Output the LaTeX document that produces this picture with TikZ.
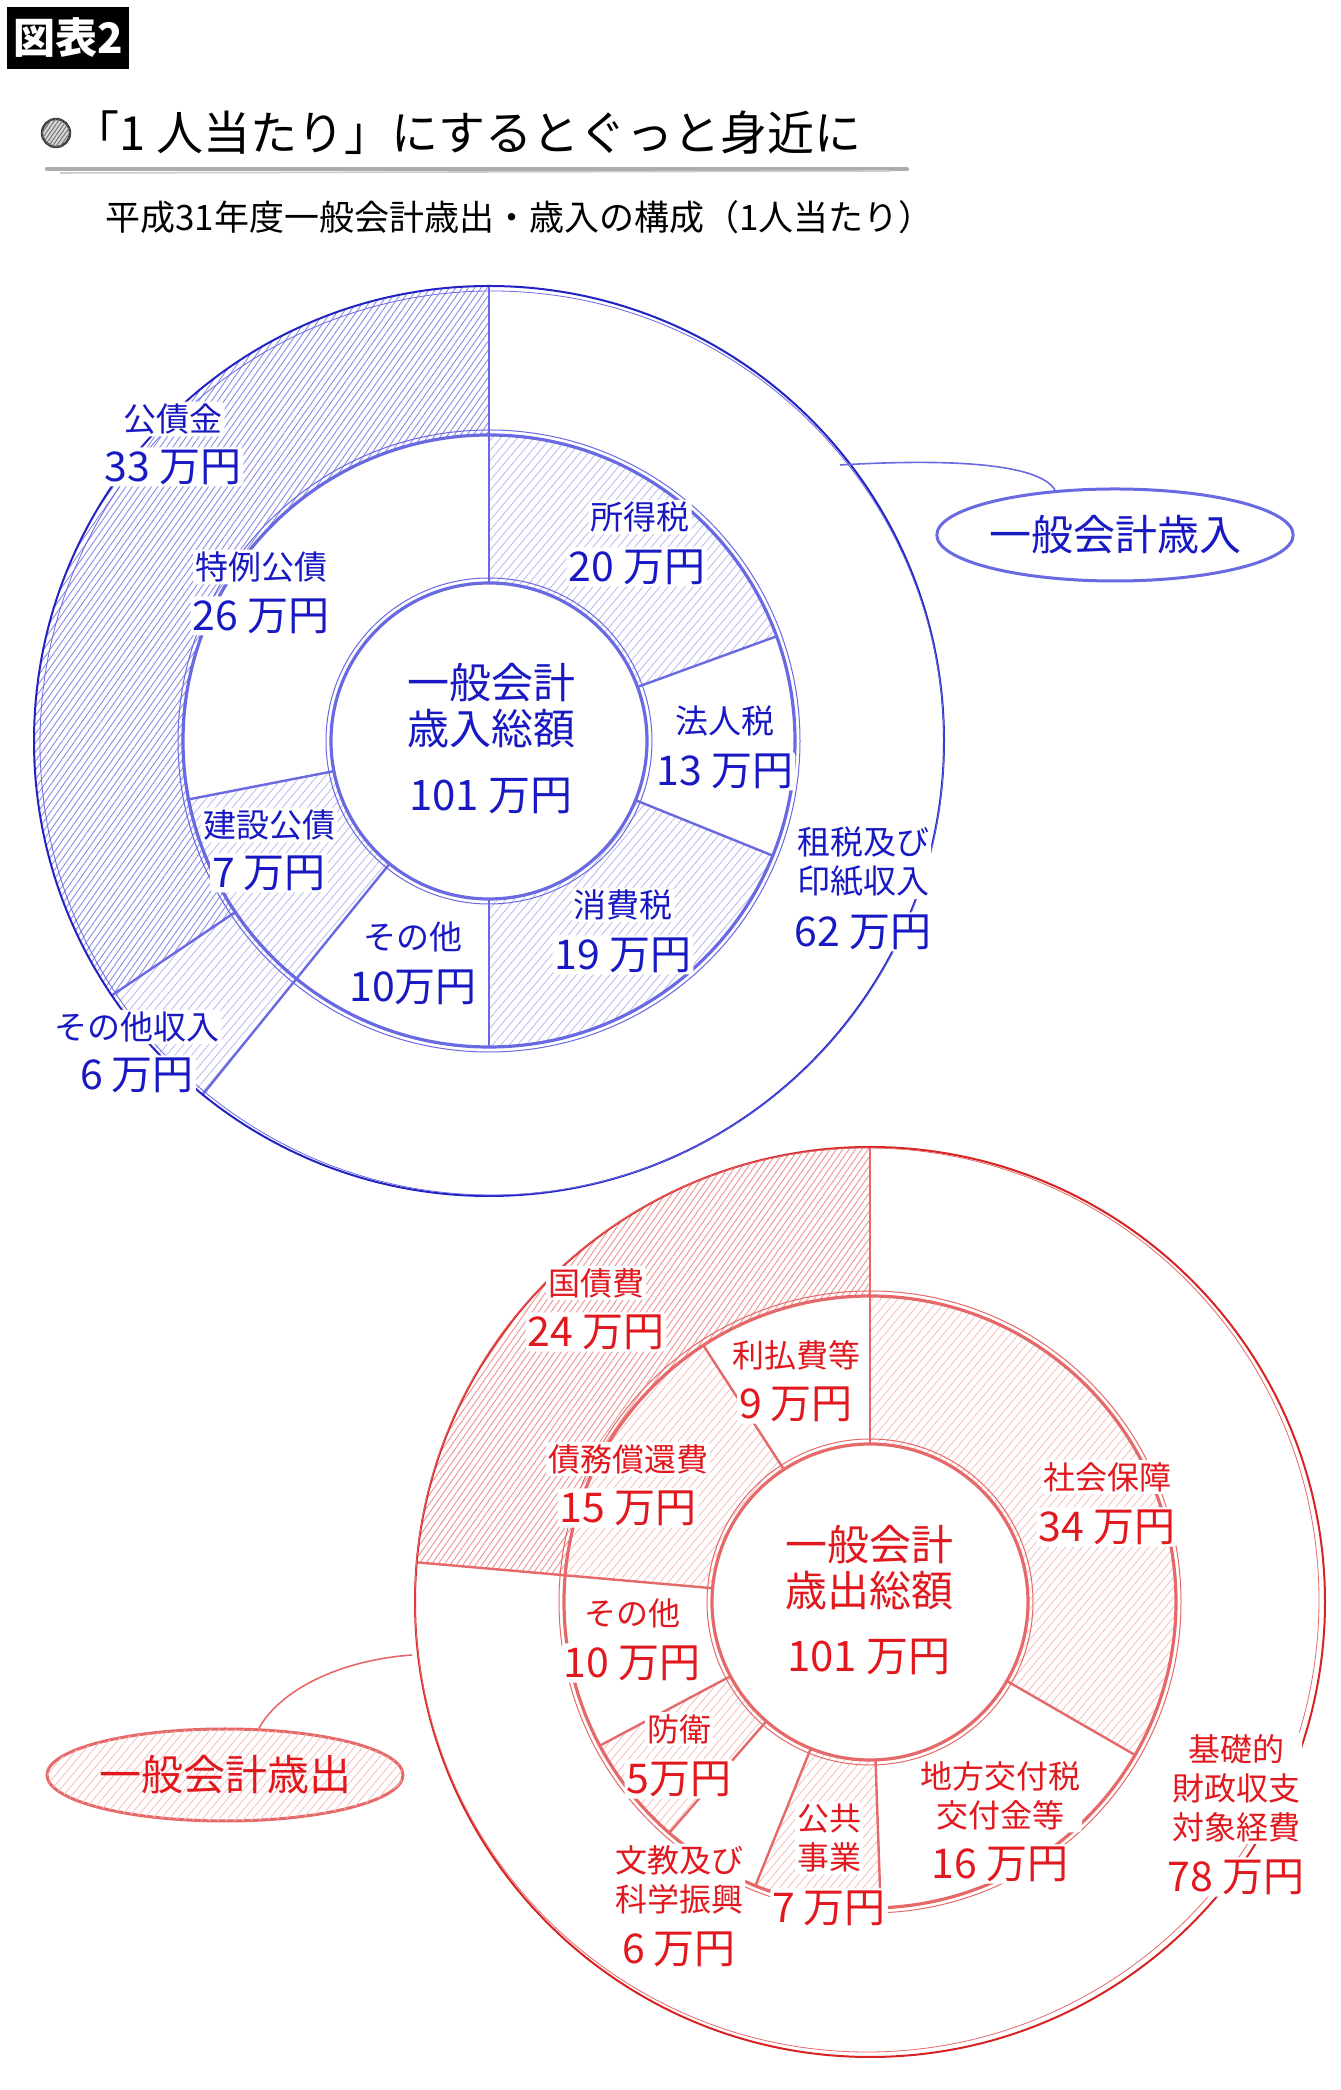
\documentclass[tikz,border=0pt]{standalone}
\usepackage{fontspec}
\setmainfont{Noto Sans CJK JP}
\usepackage{tikz}
\usetikzlibrary{patterns.meta,shapes.geometric}

\definecolor{bTxt}{RGB}{25,25,195}
\definecolor{bLine}{RGB}{105,105,225}
\definecolor{bOut}{RGB}{35,35,195}
\definecolor{bHatch}{RGB}{140,140,230}
\definecolor{bHatchL}{RGB}{185,185,240}
\definecolor{rTxt}{RGB}{225,25,30}
\definecolor{rLine}{RGB}{230,105,105}
\definecolor{rOut}{RGB}{215,35,35}
\definecolor{rHatch}{RGB}{238,145,145}
\definecolor{rHatchL}{RGB}{246,190,190}

\begin{document}
\begin{tikzpicture}[x=0.5pt,y=0.5pt,
	lbl/.style={fill=white, inner sep=1pt, rounded corners=2pt},
	bName/.style={lbl, text=bTxt, align=center, font=\fontsize{16.5}{19.5}\selectfont},
	bNum/.style={lbl, text=bTxt, font=\fontsize{20.5}{23}\selectfont},
	rName/.style={lbl, text=rTxt, align=center, font=\fontsize{16}{19.5}\selectfont},
	rNum/.style={lbl, text=rTxt, font=\fontsize{20.5}{23}\selectfont},
	midTxt/.style={align=center, font=\fontsize{21}{23}\selectfont},
	hatchB/.style={pattern={Lines[angle=55,distance=2.6pt,line width=.45pt]}, pattern color=bHatch},
	hatchBL/.style={pattern={Lines[angle=50,distance=3.2pt,line width=.4pt]}, pattern color=bHatchL},
	hatchR/.style={pattern={Lines[angle=55,distance=2.6pt,line width=.45pt]}, pattern color=rHatch},
	hatchRL/.style={pattern={Lines[angle=50,distance=3.2pt,line width=.4pt]}, pattern color=rHatchL},
	spoke/.style={line width=1.2pt, line cap=round},
	ring/.style={line width=1.6pt},
	tag/.style={ellipse, line width=1.5pt, inner sep=0pt, minimum width=178pt, minimum height=46pt, font=\fontsize{21}{24}\selectfont}]
	\useasboundingbox (0,0) rectangle (1340,2090);
	\fill[white] (0,0) rectangle (1340,2090);
	%Titolo
	\node[fill=black, text=white, font=\bfseries\fontsize{21}{24}\selectfont, minimum width=61pt, minimum height=31pt, inner sep=0pt] (figNo) at (68,2052) {図表2};
	\draw[black!75, line width=1.2pt, fill=gray!30, postaction={pattern={Lines[angle=55,distance=1.6pt,line width=.5pt]}, pattern color=black!55}] (56,1957) circle[radius=14];
	\node[anchor=west, inner sep=0pt, font=\fontsize{23.5}{26}\selectfont] (ttl) at (72,1957) {「1 人当たり」にするとぐっと身近に};
	\draw[gray!65, line width=2.2pt, line cap=round] (47,1921) -- (907,1921);
	\draw[gray!40, line width=.8pt] (60,1917) -- (890,1919);
	\node[anchor=west, inner sep=0pt, font=\fontsize{17.5}{20}\selectfont] (subttl) at (105,1873) {平成31年度一般会計歳出・歳入の構成（1人当たり）};
	%Entrate
	\coordinate (revC) at (489,1349);
	\begin{scope}[shift={(revC)}]
		\fill[hatchB] (90:455) arc[start angle=90,end angle=214,radius=455] -- (214:306) arc[start angle=214,end angle=90,radius=306] -- cycle;
		\fill[hatchBL] (214:455) arc[start angle=214,end angle=231,radius=455] -- (231:306) arc[start angle=231,end angle=214,radius=306] -- cycle;
		\foreach \a/\b in {20/90,-90/-22,191/231}
			\fill[hatchBL] (\a:306) arc[start angle=\a,end angle=\b,radius=306] -- (\b:158) arc[start angle=\b,end angle=\a,radius=158] -- cycle;
		\foreach \a in {20,-22,-90,191}
			\draw[spoke, bLine] (\a:158) -- (\a:306);
		\draw[spoke, bLine] (90:158) -- (90:455);
		\draw[spoke, bLine] (231:158) -- (231:455);
		\draw[spoke, bLine] (214:306) -- (214:455);
		\draw[bOut, line width=1pt] (0,0) circle[radius=455];
		\draw[bLine, line width=.4pt] (3,-2) circle[radius=452];
		\draw[ring, bLine] (0,0) circle[radius=306];
		\draw[bLine, line width=.5pt] (0,0) circle[radius=311];
		\draw[ring, bLine] (0,0) circle[radius=158];
		\draw[bLine, line width=.5pt] (0,0) circle[radius=163];
	\end{scope}
	\node[bName] (kousai) at (173,1671) {公債金};
	\node[bNum] (kousaiV) at (173,1623) {33 万円};
	\node[bName] (tokurei) at (261,1523) {特例公債};
	\node[bNum] (tokureiV) at (261,1474) {26 万円};
	\node[bName] (shotoku) at (640,1573) {所得税};
	\node[bNum] (shotokuV) at (637,1523) {20 万円};
	\node[midTxt, text=bTxt] (revTot) at (491,1384) {一般会計\\歳入総額};
	\node[midTxt, text=bTxt] (revTotV) at (491,1294) {101 万円};
	\node[bName] (houjin) at (725,1369) {法人税};
	\node[bNum] (houjinV) at (725,1319) {13 万円};
	\node[bName] (kensetsu) at (269,1265) {建設公債};
	\node[bNum] (kensetsuV) at (269,1217) {7 万円};
	\node[bName] (shouhi) at (623,1185) {消費税};
	\node[bNum] (shouhiV) at (623,1135) {19 万円};
	\node[bName] (sonotaB) at (413,1153) {その他};
	\node[bNum] (sonotaBV) at (413,1103) {10万円};
	\node[bName] (sozei) at (863,1228) {租税及び\\印紙収入};
	\node[bNum] (sozeiV) at (863,1158) {62 万円};
	\node[bName] (sonotaS) at (137,1063) {その他収入};
	\node[bNum] (sonotaSV) at (137,1015) {6 万円};
	\coordinate (revEnd) at (840,1625);
	\draw[bLine, line width=.8pt] (revEnd) .. controls (960,1632) and (1040,1625) .. (1055,1600);
	\node[tag, draw=bLine, fill=white, text=bTxt] (revTag) at (1115,1555) {一般会計歳入};
	%Uscite
	\coordinate (expC) at (870,488);
	\begin{scope}[shift={(expC)}]
		\fill[hatchR] (90:455) arc[start angle=90,end angle=175,radius=455] -- (175:306) arc[start angle=175,end angle=90,radius=306] -- cycle;
		\foreach \a/\b in {123/175,208/229,248/272,-30/90}
			\fill[hatchRL] (\a:306) arc[start angle=\a,end angle=\b,radius=306] -- (\b:158) arc[start angle=\b,end angle=\a,radius=158] -- cycle;
		\foreach \a in {123,208,229,248,272,-30}
			\draw[spoke, rLine] (\a:158) -- (\a:306);
		\draw[spoke, rLine] (90:158) -- (90:455);
		\draw[spoke, rLine] (175:158) -- (175:455);
		\draw[rOut, line width=1pt] (0,0) circle[radius=455];
		\draw[rLine, line width=.4pt] (-3,2) circle[radius=452];
		\draw[ring, rLine] (0,0) circle[radius=306];
		\draw[rLine, line width=.5pt] (0,0) circle[radius=311];
		\draw[ring, rLine] (0,0) circle[radius=158];
		\draw[rLine, line width=.5pt] (0,0) circle[radius=163];
	\end{scope}
	\node[rName] (kokusai) at (596,807) {国債費};
	\node[rNum] (kokusaiV) at (596,758) {24 万円};
	\node[rName] (riharai) at (796,735) {利払費等};
	\node[rNum] (riharaiV) at (796,686) {9 万円};
	\node[rName] (saimu) at (628,631) {債務償還費};
	\node[rNum] (saimuV) at (628,582) {15 万円};
	\node[rName] (shakai) at (1107,613) {社会保障};
	\node[rNum] (shakaiV) at (1107,563) {34 万円};
	\node[midTxt, text=rTxt] (expTot) at (869,522) {一般会計\\歳出総額};
	\node[midTxt, text=rTxt] (expTotV) at (869,433) {101 万円};
	\node[rName] (sonotaR) at (632,477) {その他};
	\node[rNum] (sonotaRV) at (632,427) {10 万円};
	\node[rName] (bouei) at (679,361) {防衛};
	\node[rNum] (boueiV) at (679,311) {5万円};
	\node[rName] (kiso) at (1236,302) {基礎的\\財政収支\\対象経費};
	\node[rNum] (kisoV) at (1236,213) {78 万円};
	\node[rName] (chihou) at (1000,294) {地方交付税\\交付金等};
	\node[rNum] (chihouV) at (1000,226) {16 万円};
	\node[rName] (koukyou) at (829,252) {公共\\事業};
	\node[rNum] (koukyouV) at (829,182) {7 万円};
	\node[rName] (bunkyou) at (679,210) {文教及び\\科学振興};
	\node[rNum] (bunkyouV) at (679,141) {6 万円};
	\coordinate (expEnd) at (412,435);
	\node[tag, draw=rLine, fill=white, text=rTxt, postaction={pattern={Lines[angle=50,distance=3.2pt,line width=.4pt]}, pattern color=rHatchL}] (expTag) at (225,315) {};
	\node[text=rTxt, font=\fontsize{21}{24}\selectfont] (expTagTxt) at (expTag) {一般会計歳出};
	\draw[rLine, line width=.8pt] (expTag.54) .. controls (280,400) and (340,430) .. (expEnd);
\end{tikzpicture}
\end{document}
